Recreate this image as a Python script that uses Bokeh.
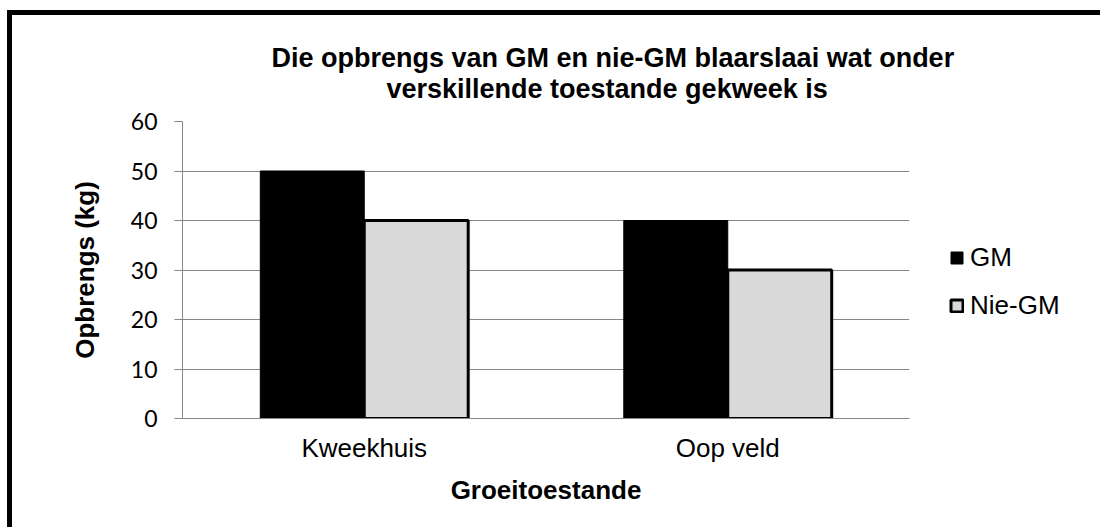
from bokeh.plotting import figure
from bokeh.models import Title, Legend, LegendItem, FactorRange, SingleIntervalTicker
from bokeh.embed import file_html
from bokeh.resources import INLINE
from bokeh.transform import dodge

categories = ["Kweekhuis", "Oop veld"]
gm = [50, 40]
nie_gm = [40, 30]
series_names = ["GM", "Nie-GM"]
title_lines = ["Die opbrengs van GM en nie-GM blaarslaai wat onder",
               "verskillende toestande gekweek is"]

p = figure(frame_width=727, frame_height=297,
           x_range=FactorRange(*categories, range_padding=0),
           y_range=(0, 60), output_backend="svg", toolbar_location=None,
           title_location=None,
           min_border_left=170, min_border_top=106, min_border_bottom=109,
           min_border_right=191)
p.styles = {"border-left": "5px solid black", "border-top": "5px solid black",
            "margin-left": "7px", "margin-top": "10px"}
p.outline_line_color = None

bw = 0.286
src = dict(x=categories, gm=gm, nie=nie_gm)
r1 = p.vbar(x=dodge("x", -bw / 2, range=p.x_range), top="gm", width=bw,
            source=src, fill_color="black", line_color="black", line_width=1)
r2 = p.vbar(x=dodge("x", bw / 2, range=p.x_range), top="nie", width=bw,
            source=src, fill_color="#d9d9d9", line_color="black", line_width=3)

p.yaxis.ticker = SingleIntervalTicker(interval=10)
p.yaxis.minor_tick_line_color = None
p.yaxis.major_tick_in = 0
p.yaxis.major_tick_out = 8
p.yaxis.major_tick_line_color = "#868686"
p.yaxis.axis_line_color = "#868686"
p.yaxis.major_label_text_font = "Lato"
p.yaxis.major_label_text_font_size = "23px"
p.yaxis.major_label_text_color = "black"
p.yaxis.major_label_standoff = 17
p.yaxis.axis_label = "Opbrengs (kg)"
p.yaxis.axis_label_text_font = "Liberation Sans"
p.yaxis.axis_label_text_font_style = "bold"
p.yaxis.axis_label_text_font_size = "26px"
p.yaxis.axis_label_text_color = "black"
p.yaxis.axis_label_standoff = 28

p.xaxis.axis_line_color = "#868686"
p.xaxis.major_tick_line_color = None
p.xaxis.major_tick_out = 0
p.xaxis.major_tick_in = 0
p.xaxis.minor_tick_line_color = None
p.xaxis.major_label_text_font = "Liberation Sans"
p.xaxis.major_label_text_font_size = "26px"
p.xaxis.major_label_text_color = "black"
p.xaxis.major_label_standoff = 14
p.xaxis.axis_label = "Groeitoestande"
p.xaxis.axis_label_text_font = "Liberation Sans"
p.xaxis.axis_label_text_font_style = "bold"
p.xaxis.axis_label_text_font_size = "26px"
p.xaxis.axis_label_text_color = "black"
p.xaxis.axis_label_standoff = 9

p.xgrid.grid_line_color = None
p.ygrid.grid_line_color = "#868686"
p.ygrid.grid_line_width = 1

for t, so, off in [(title_lines[1], 36, 204), (title_lines[0], -38, 89)]:
    p.add_layout(Title(text=t, align="left", offset=off, standoff=so,
                       text_font="Liberation Sans", text_font_style="bold",
                       text_font_size="27px", text_color="black"), "above")

legend = Legend(items=[LegendItem(label=series_names[0], renderers=[r1]),
                       LegendItem(label=series_names[1], renderers=[r2])],
                location="top_left", padding=0, margin=40, spacing=17,
                glyph_width=15, glyph_height=15, label_height=30,
                label_standoff=6, label_text_font="Liberation Sans",
                label_text_font_size="26px", label_text_color="black",
                border_line_color=None, background_fill_alpha=0,
                title=" ", title_text_font_size="10px", title_standoff=70)
p.add_layout(legend, "right")

open("out.html", "w").write(file_html(p, INLINE))
